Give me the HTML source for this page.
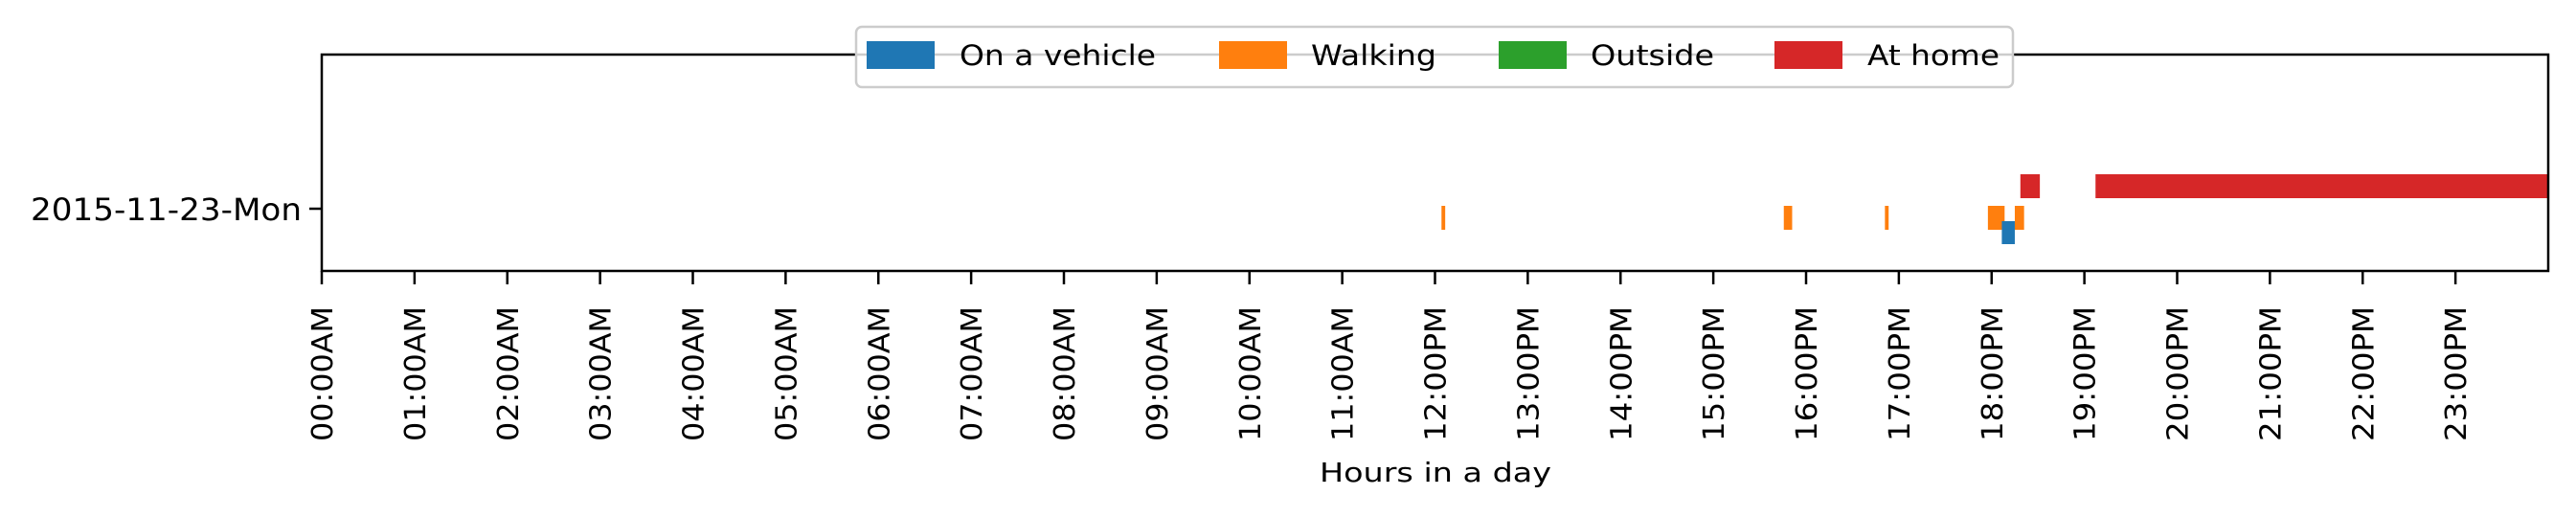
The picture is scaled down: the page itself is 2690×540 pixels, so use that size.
<!DOCTYPE html>
<html><head><meta charset="utf-8"><style>
html,body{margin:0;padding:0;background:#fff;}
svg{display:block;font-family:"DejaVu Sans","Liberation Sans",sans-serif;}
</style></head><body>
<svg id="chart" width="2690" height="540" viewBox="0 0 2690 540">
<g id="bars"></g>
<rect x="336" y="57" width="2325" height="226" fill="none" stroke="#000" stroke-width="2.5"/>
<g id="xticks"></g>
<line x1="323" y1="218" x2="336" y2="218" stroke="#000" stroke-width="2.5"/>
<text x="315" y="230" font-size="32" text-anchor="end" textLength="283" lengthAdjust="spacingAndGlyphs">2015-11-23-Mon</text>
<text x="1499" y="503" font-size="28" text-anchor="middle" textLength="242" lengthAdjust="spacingAndGlyphs">Hours in a day</text>
<g>
<rect x="894" y="28" width="1208" height="63" rx="6" fill="#fff" fill-opacity="0.8" stroke="#ccc" stroke-width="2.5"/>
<rect x="905" y="43" width="71" height="29" fill="#1f77b4"/>
<text x="1002" y="68" font-size="29" textLength="205" lengthAdjust="spacingAndGlyphs">On a vehicle</text>
<rect x="1273" y="43" width="71" height="29" fill="#ff7f0e"/>
<text x="1369" y="68" font-size="29" textLength="131" lengthAdjust="spacingAndGlyphs">Walking</text>
<rect x="1565" y="43" width="71" height="29" fill="#2ca02c"/>
<text x="1661" y="68" font-size="29" textLength="129" lengthAdjust="spacingAndGlyphs">Outside</text>
<rect x="1853" y="43" width="71" height="29" fill="#d62728"/>
<text x="1950" y="68" font-size="29" textLength="138" lengthAdjust="spacingAndGlyphs">At home</text>
</g>
</svg>
<script>
const tickLabels = ["00:00AM","01:00AM","02:00AM","03:00AM","04:00AM","05:00AM","06:00AM","07:00AM","08:00AM","09:00AM","10:00AM","11:00AM","12:00PM","13:00PM","14:00PM","15:00PM","16:00PM","17:00PM","18:00PM","19:00PM","20:00PM","21:00PM","22:00PM","23:00PM"];
const vehicleStarts = [18.11];
const vehicleEnds = [18.25];
const walkingStarts = [12.07, 15.76, 16.85, 17.96, 18.25];
const walkingEnds = [12.11, 15.85, 16.89, 18.14, 18.35];
const outsideStarts = [];
const outsideEnds = [];
const homeStarts = [18.31, 19.12];
const homeEnds = [18.52, 24];

const NS = "http://www.w3.org/2000/svg";
const X0 = 336, X1 = 2661;
function xScale(h){ return X0 + (h/24)*(X1-X0); }

const bars = document.getElementById('bars');
function drawSeries(starts, ends, y, h, color, name){
  for(let i=0;i<starts.length;i++){
    const r = document.createElementNS(NS,'rect');
    const x = xScale(starts[i]);
    r.setAttribute('x', x);
    r.setAttribute('y', y);
    r.setAttribute('width', Math.max(1, xScale(ends[i]) - x));
    r.setAttribute('height', h);
    r.setAttribute('fill', color);
    
    
    bars.appendChild(r);
  }
}
drawSeries(homeStarts, homeEnds, 182, 25, '#d62728', 'at-home-bar');
drawSeries(outsideStarts, outsideEnds, 199, 25, '#2ca02c', 'outside-bar');
drawSeries(walkingStarts, walkingEnds, 215, 25, '#ff7f0e', 'walking-bar');
drawSeries(vehicleStarts, vehicleEnds, 231, 24, '#1f77b4', 'vehicle-bar');

const xt = document.getElementById('xticks');
tickLabels.forEach((lab, i) => {
  const x = xScale(i);
  const l = document.createElementNS(NS,'line');
  l.setAttribute('x1', x); l.setAttribute('x2', x);
  l.setAttribute('y1', 283); l.setAttribute('y2', 297);
  l.setAttribute('stroke', '#000'); l.setAttribute('stroke-width', '2.5');
  
  
  xt.appendChild(l);
  const t = document.createElementNS(NS,'text');
  t.setAttribute('transform', `translate(${x+11},461) rotate(-90)`);
  t.setAttribute('font-size', '30');
  t.setAttribute('textLength', '141');
  t.setAttribute('lengthAdjust', 'spacingAndGlyphs');
  t.textContent = lab;
  
  
  xt.appendChild(t);
});
</script>
</body></html>
